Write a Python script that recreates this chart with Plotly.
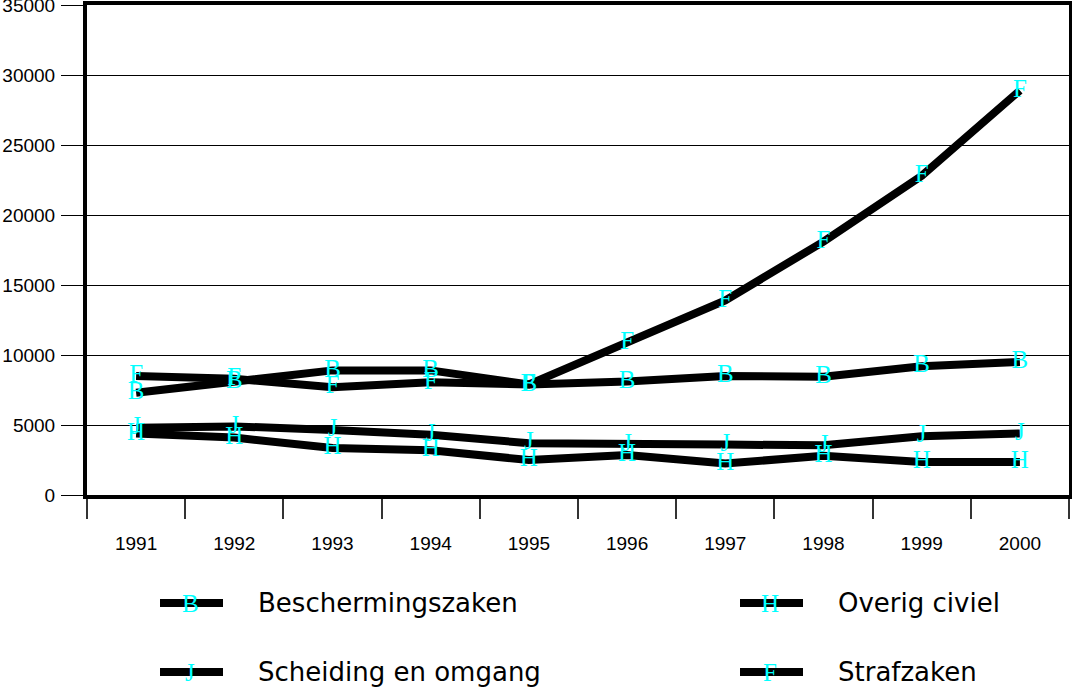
import plotly.graph_objects as go

years = ["1991", "1992", "1993", "1994", "1995", "1996", "1997", "1998", "1999", "2000"]
bescherming = [7300, 8100, 8900, 8900, 7900, 8100, 8500, 8450, 9200, 9500]
scheiding = [4800, 4900, 4650, 4300, 3700, 3600, 3600, 3550, 4200, 4400]
overig = [4400, 4100, 3350, 3200, 2500, 2850, 2250, 2800, 2350, 2350]
straf = [8500, 8300, 7700, 8050, 7900, 10900, 13900, 18100, 22800, 28900]

series = [
    ("Beschermingszaken", "B", bescherming),
    ("Scheiding en omgang", "J", scheiding),
    ("Overig civiel", "H", overig),
    ("Strafzaken", "F", straf),
]

W, H = 1072, 688
L, R, T, B = 87, 3, 5, 193
CYAN = "#00FFFF"
MARK_FONT = dict(family="Liberation Serif", size=25, color=CYAN)

fig = go.Figure()

# thick black lines first
for name, letter, vals in series:
    fig.add_trace(go.Scatter(x=years, y=vals, mode="lines", name=name,
                             line=dict(color="black", width=8), showlegend=False))

# letter markers on top
for name, letter, vals in series:
    fig.add_trace(go.Scatter(x=years, y=vals, mode="text", text=[letter] * len(vals),
                             textposition="middle center", textfont=MARK_FONT,
                             showlegend=False, hoverinfo="skip"))


def px_x(p):
    return (p - L) / (W - L - R)


def px_y(p):
    return (H - B - p) / (H - T - B)


# hand-made legend, two columns
legend_pos = [
    ("Beschermingszaken", "B", 160, 603),
    ("Scheiding en omgang", "J", 160, 672),
    ("Overig civiel", "H", 740, 603),
    ("Strafzaken", "F", 740, 672),
]
for name, letter, x0, yc in legend_pos:
    fig.add_shape(type="line", xref="paper", yref="paper",
                  x0=px_x(x0), x1=px_x(x0 + 63), y0=px_y(yc), y1=px_y(yc),
                  line=dict(color="black", width=8))
    fig.add_annotation(xref="paper", yref="paper", x=px_x(x0 + 30), y=px_y(yc),
                       text=letter, showarrow=False, font=MARK_FONT,
                       xanchor="center", yanchor="middle")
    fig.add_annotation(xref="paper", yref="paper", x=px_x(x0 + 96), y=px_y(yc),
                       text=name, showarrow=False,
                       font=dict(family="DejaVu Sans", size=26, color="black"),
                       xanchor="left", yanchor="middle")

fig.update_layout(
    width=W, height=H,
    margin=dict(l=L, r=R, t=T, b=B),
    paper_bgcolor="white", plot_bgcolor="white",
    font=dict(family="Liberation Sans", size=19, color="black"),
    xaxis=dict(type="category", tickson="boundaries", ticks="outside", ticklen=20,
               tickwidth=2, tickcolor="#333", showgrid=False, showline=True,
               linecolor="black", linewidth=4, mirror=True, ticklabelstandoff=28,
               range=[-0.5, 9.5], automargin=False),
    yaxis=dict(range=[0, 35000], dtick=5000, tickformat="d", ticks="outside",
               ticklen=22, tickcolor="black", tickwidth=1, showgrid=True,
               gridcolor="black", gridwidth=1, showline=True, linecolor="black",
               linewidth=4, mirror=True, zeroline=False, ticklabelstandoff=2,
               ticklabeloverflow="allow", automargin=False),
)

fig.write_html("out.html", config={"displayModeBar": False},
               post_script="document.body.style.margin='0';")
